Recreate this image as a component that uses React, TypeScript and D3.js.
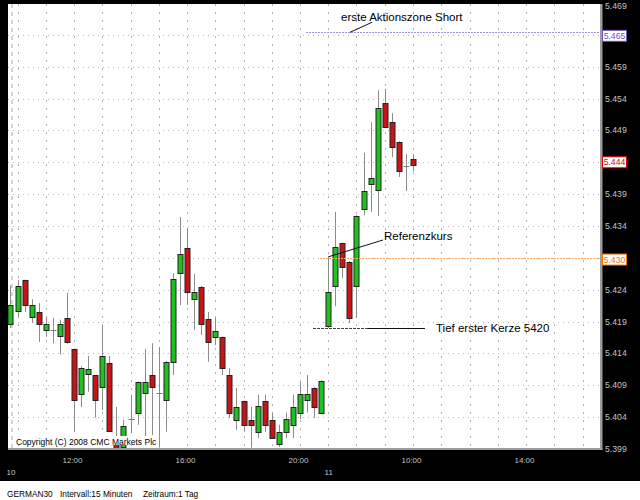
import React from 'react';
import * as d3 from 'd3';

// 15-minute candles, slot index (0 = 10:00 on day 10)
const slots = [-1,0,1,2,3,4,5,6,7,8,9,10,11,12,13,14,15,16,17,18,19,20,21,22,23,24,25,26,27,28,29,30,31,32,33,34,35,36,37,38,39,40,41,42,43,44,45,46,47,48,49,50,51,52,53,54,55,56];
const opens = [5418.6,5420.7,5425.5,5419.7,5420.5,5417.7,5417.6,5416.7,5419.5,5414.7,5407.6,5410.8,5410.6,5408.7,5412.5,5400.7,5399.3,5403.7,5404.7,5407.8,5410.6,5407.8,5406.7,5412.7,5426.6,5430.5,5422.5,5424.4,5419.4,5416.6,5416.6,5410.6,5403.6,5406.5,5403.6,5401.7,5406.5,5403.6,5399.8,5401.7,5402.8,5404.7,5406.7,5408.6,5404.7,5418.3,5424.6,5431.3,5428.4,5424.6,5436.7,5440.6,5439.7,5453.3,5450.3,5447.2,5443.4,5444.5];
const highs = [5424.7,5425.5,5425.6,5422.5,5421.9,5419.6,5419.6,5419.3,5423.5,5414.7,5412.0,5413.6,5410.6,5418.5,5413.6,5405.6,5403.6,5407.5,5409.6,5414.7,5415.6,5415.0,5412.8,5426.6,5435.4,5433.7,5426.5,5424.6,5420.5,5419.6,5416.7,5411.7,5408.6,5406.6,5405.6,5407.5,5407.5,5404.7,5402.8,5404.7,5407.5,5409.5,5410.6,5408.7,5409.8,5429.1,5436.2,5431.4,5428.5,5435.7,5445.5,5450.3,5455.3,5455.5,5451.7,5447.3,5445.3,5445.3];
const lows = [5418.0,5419.7,5420.5,5418.8,5415.8,5416.6,5415.6,5413.8,5415.5,5401.7,5405.6,5408.0,5403.9,5405.1,5401.7,5399.1,5399.1,5401.5,5402.8,5400.9,5401.2,5399.2,5401.7,5410.6,5421.6,5421.6,5417.7,5416.9,5412.7,5415.3,5410.6,5403.9,5402.0,5401.7,5399.2,5400.7,5401.7,5400.6,5399.3,5400.7,5400.7,5403.7,5404.7,5403.9,5404.6,5418.0,5421.4,5425.8,5418.8,5419.6,5435.7,5436.2,5435.6,5449.4,5444.8,5441.7,5439.5,5442.6];
const closes = [5421.6,5424.6,5421.6,5421.6,5418.6,5418.6,5417.6,5418.6,5415.8,5406.7,5411.7,5411.6,5406.7,5413.6,5401.8,5399.2,5402.6,5403.7,5409.5,5409.5,5408.7,5407.8,5412.7,5425.7,5429.6,5423.6,5423.6,5418.6,5415.8,5417.5,5411.7,5404.7,5405.6,5402.8,5402.8,5405.7,5402.8,5400.7,5401.7,5403.7,5405.6,5407.6,5407.6,5405.6,5409.7,5423.6,5430.7,5427.6,5419.6,5435.6,5439.5,5441.5,5452.5,5449.5,5446.4,5442.6,5443.4,5443.6];

const yTicks = d3.range(5399, 5470, 5);
const timeSlots = [8, 24, 40, 56, 72];
const timeLabels = ['12:00', '16:00', '20:00', '10:00', '14:00'];
const daySlots = [-1, 44];
const dayLabels = ['10', '11'];

const shortZone = 5464.4;
const shortZoneLabel = '5.465';
const refLevel = 5429.0;
const refLabel = '5.430';
const lastPrice = 5444.0;
const lastLabel = '5.444';
const firstLow = 5418.0;

const FONT = '"Liberation Sans", Arial, sans-serif';

export default function App() {
  const x = d3.scaleLinear().domain([0, 72]).range([17.5, 17.5 + 72 * 7.0625]);
  const y = d3.scaleLinear().domain([5399, 5469]).range([449, 3]);
  const fmt = d3.formatLocale({ decimal: ',', thousands: '.', grouping: [3], currency: ['', ''] }).format(',.0f');
  const plotL = 8, plotR = 600, plotT = 4, plotB = 448;
  const gridX = d3.range(0, 81, 4);
  const boxes = [
    { v: shortZone, label: shortZoneLabel, color: '#7050b8', off: 3.5 },
    { v: refLevel, label: refLabel, color: '#f07000', off: 1.7 },
    { v: lastPrice, label: lastLabel, color: '#e00000', off: 0 },
  ];
  const hidden = (t: number) => boxes.some(b => Math.abs(y(t) - y(b.v) - b.off) < 8);
  const candles = slots.map((s, i) => ({ s, o: opens[i], h: highs[i], l: lows[i], c: closes[i] }));
  const lowY = Math.round(y(firstLow)) + 0.5;

  return (
    <svg width={640} height={500} style={{ position: 'absolute', left: 0, top: 0, display: 'block' }} fontFamily={FONT}>
      <rect x={0} y={0} width={640} height={500} fill="#000" />
      <rect x={0} y={481} width={640} height={19} fill="#fff" />
      <rect x={plotL} y={plotT} width={plotR - plotL} height={plotB - plotT} fill="#fff" />
      <defs>
        <clipPath id="plot"><rect x={plotL} y={plotT} width={plotR - plotL} height={plotB - plotT} /></clipPath>
      </defs>
      <g clipPath="url(#plot)">
        {yTicks.map(t => (
          <line key={'h' + t} x1={plotL} x2={plotR} y1={Math.round(y(t)) + 0.5} y2={Math.round(y(t)) + 0.5} stroke="#b8b8b8" strokeDasharray="1,4" />
        ))}
        {gridX.map(s => (
          <line key={'v' + s} x1={Math.round(x(s)) + 0.5} x2={Math.round(x(s)) + 0.5} y1={plotT} y2={plotB} stroke="#b4b4b4" strokeDasharray="2,6" />
        ))}
        <line x1={12} x2={12} y1={plotT} y2={plotB} stroke="#a8a8a8" strokeDasharray="4,4" />
        {candles.map(d => {
          const cx = Math.round(x(d.s)) + 0.5;
          const up = d.c >= d.o;
          const top = Math.round(y(Math.max(d.o, d.c)));
          const bot = Math.round(y(Math.min(d.o, d.c)));
          const doji = bot - top < 2;
          return (
            <g key={'c' + d.s}>
              <line x1={cx} x2={cx} y1={y(d.h)} y2={y(d.l)} stroke="#8c8c8c" strokeWidth={1} />
              {doji ? (
                <line x1={cx - 3} x2={cx + 3} y1={top + 0.5} y2={top + 0.5} stroke="#777" />
              ) : (
                <rect x={cx - 2.5} y={top + 0.5} width={5} height={bot - top} fill={up ? '#1ec21e' : '#c81414'} stroke="#222" strokeWidth={1} />
              )}
            </g>
          );
        })}
        {/* reference levels */}
        <line x1={306} x2={plotR} y1={Math.round(y(shortZone)) + 0.5} y2={Math.round(y(shortZone)) + 0.5} stroke="#a890dc" strokeDasharray="2,1" />
        <line x1={320} x2={plotR} y1={Math.round(y(refLevel)) + 0.5} y2={Math.round(y(refLevel)) + 0.5} stroke="#ffa868" strokeDasharray="2,1" />
        <line x1={313} x2={368} y1={lowY} y2={lowY} stroke="#444" strokeDasharray="3,1" />
        <line x1={368} x2={425} y1={lowY} y2={lowY} stroke="#111" />
        {/* annotation pointers & texts */}
        <line x1={350} y1={y(shortZone)} x2={372} y2={y(shortZone) - 10} stroke="#111" />
        <text x={341} y={21} fontSize={11.5} fill="#000">erste Aktionszone Short</text>
        <line x1={x(44)} y1={y(refLevel) - 1} x2={383} y2={240} stroke="#111" />
        <text x={384} y={240} fontSize={11.5} fill="#000">Referenzkurs</text>
        <text x={436} y={332} fontSize={11.5} fill="#000">Tief erster Kerze 5420</text>
        {/* copyright */}
        <rect x={14} y={436} width={142} height={9} fill="#fff" />
        <text x={16} y={444.5} fontSize={8.5} fill="#000">Copyright (C) 2008 CMC Markets Plc</text>
      </g>
      {/* plot border */}
      <rect x={600} y={plotT} width={2.5} height={plotB - plotT + 2} fill="#9c9c9c" />
      <rect x={plotL} y={448} width={plotR - plotL + 2.5} height={2} fill="#9c9c9c" />
      {/* y axis labels */}
      {yTicks.filter(t => !hidden(t)).map(t => (
        <text key={'yl' + t} x={605} y={Math.max(y(t), 6)} dy="0.35em" fontSize={8.7} fill="#c4c4c4">{fmt(t)}</text>
      ))}
      {boxes.map(b => (
        <g key={'b' + b.label}>
          <rect x={602.5} y={y(b.v) + b.off - 5.5} width={24} height={11} fill="#fff" stroke={b.color} />
          <text x={614.5} y={y(b.v) + b.off} dy="0.35em" textAnchor="middle" fontSize={8.7} fill={b.color}>{b.label}</text>
        </g>
      ))}
      {/* x axis labels */}
      {timeSlots.map((s, i) => (
        <text key={'t' + s} x={x(s) - 1.5} y={460} dy="0.35em" textAnchor="middle" fontSize={8} fill="#c4c4c4">{timeLabels[i]}</text>
      ))}
      {daySlots.map((s, i) => (
        <text key={'d' + s} x={x(s) + 0.5} y={472} dy="0.35em" textAnchor="middle" fontSize={8} fill="#c4c4c4">{dayLabels[i]}</text>
      ))}
      <text x={7} y={496.5} fontSize={8.3} fill="#000">GERMAN30</text>
      <text x={60} y={496.5} fontSize={8.3} fill="#000">Intervall:15 Minuten</text>
      <text x={143} y={496.5} fontSize={8.3} fill="#000">Zeitraum:1 Tag</text>
    </svg>
  );
}
